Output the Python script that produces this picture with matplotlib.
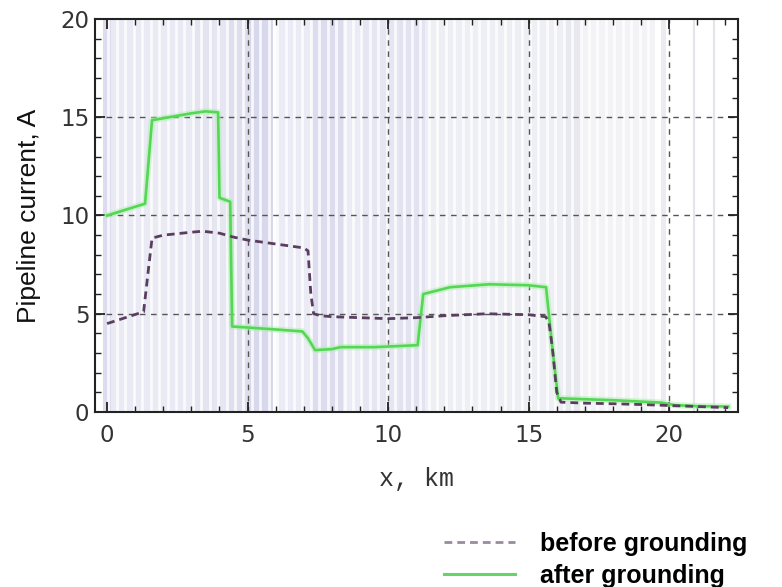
import numpy as np
import matplotlib
matplotlib.use("Agg")
import matplotlib.pyplot as plt
from matplotlib.lines import Line2D
from matplotlib.ticker import MultipleLocator

# ---- data ----
x_before = [0, 1.3, 1.45, 1.6, 2.0, 3.0, 3.4, 4.0, 4.5, 5.0, 6.0, 7.0, 7.15, 7.25, 7.35, 7.6,
            8.0, 9.0, 10.0, 11.0, 12.0, 13.5, 15.0, 15.6, 15.72, 15.85, 16.0, 16.15, 17.0,
            18.0, 19.0, 20.0, 21.0, 22.1]
y_before = [4.5, 5.1, 7.0, 8.85, 9.0, 9.15, 9.2, 9.1, 8.9, 8.75, 8.55, 8.35, 8.2, 6.0, 5.0, 4.9,
            4.85, 4.8, 4.75, 4.8, 4.9, 5.0, 4.95, 4.85, 4.6, 3.2, 1.0, 0.5, 0.45,
            0.42, 0.38, 0.33, 0.28, 0.22]

x_after = [0, 1.35, 1.6, 2.2, 3.0, 3.5, 3.95, 4.0, 4.38, 4.45, 5.0, 6.0, 6.95, 7.15, 7.4, 8.0,
           8.3, 9.5, 11.05, 11.25, 12.2, 13.6, 15.0, 15.62, 15.85, 16.05, 17.0, 18.0, 19.7,
           20.2, 21.0, 22.1]
y_after = [10.0, 10.6, 14.85, 15.0, 15.2, 15.3, 15.25, 10.9, 10.7, 4.35, 4.3, 4.2, 4.1, 3.75, 3.15,
           3.2, 3.3, 3.3, 3.4, 6.0, 6.35, 6.5, 6.45, 6.35, 3.2, 0.7, 0.65, 0.6, 0.48,
           0.35, 0.3, 0.28]

x_ticks = [0, 5, 10, 15, 20]
y_ticks = [0, 5, 10, 15, 20]
grid_x = [5, 10, 15, 20]
grid_y = [5, 10, 15]

# background shading bands (start km, end km, lavender colour)
band_start = [-0.15, 0.15, 3.1, 3.8, 4.3, 5.1, 6.0, 7.3, 8.4, 9.0, 10.4, 11.3, 16.3, 16.9, 19.7]
band_end   = [0.15, 3.1, 3.8, 4.3, 5.1, 5.9, 7.3, 8.4, 9.0, 10.4, 11.3, 16.3, 16.9, 19.5, 19.9]
band_color = ["#dcdcee", "#eaeaf4", "#e4e4f1", "#e6e6f2", "#dedeef", "#d8d8ec", "#ebebf5",
              "#dcdcee", "#ebebf5", "#e6e6f2", "#e2e2f0", "#eeeef5", "#e8e8ef", "#f2f2f7",
              "#ececf0"]
extra_lines = [20.9, 21.6]

label_before = "before grounding"
label_after = "after grounding"

purple = "#5a3e60"
green = "#55d655"

fig = plt.figure(figsize=(7.82, 5.87), dpi=100)
ax = fig.add_axes([95 / 782, 1 - 412 / 587, (738 - 95) / 782, (412 - 19) / 587])
ax.set_xlim(-0.43, 22.45)
ax.set_ylim(0, 20)

# background stripes
for s, e, c in zip(band_start, band_end, band_color):
    ax.axvspan(s, e, color=c, lw=0, zorder=0)
for xs in np.arange(0.05, 19.6, 0.3):
    ax.axvline(xs, color="white", lw=2.0, alpha=0.8, zorder=0.5)
for xs in extra_lines:
    ax.axvline(xs, color="#e4e4ea", lw=1.5, zorder=0.5)

# grid
for gx in grid_x:
    ax.axvline(gx, color="#555555", lw=1.0, dashes=(4, 4), zorder=1)
for gy in grid_y:
    ax.axhline(gy, color="#555555", lw=1.0, dashes=(4, 4), zorder=1)

# curves
ax.plot(x_after, y_after, color="#aaf0aa", lw=4.5, alpha=0.5, zorder=2,
        solid_joinstyle="round")
ax.plot(x_after, y_after, color=green, lw=1.9, zorder=3, solid_joinstyle="round")
ax.plot(x_before, y_before, color=purple, lw=2.0, dashes=(2.8, 1.8), zorder=4)

# ticks
ax.set_xticks(x_ticks)
ax.set_yticks(y_ticks)
ax.xaxis.set_minor_locator(MultipleLocator(1))
ax.yaxis.set_minor_locator(MultipleLocator(1))
ax.tick_params(which="both", direction="in", top=True, right=True, color="#222222")
ax.tick_params(which="major", length=7, width=1.3)
ax.tick_params(which="minor", length=4, width=1.0)
ax.tick_params(axis="both", which="major", labelsize=16.5, labelcolor="#333333")
ax.tick_params(axis="x", which="major", pad=9)
ax.tick_params(axis="y", which="major", pad=4)
for sp in ax.spines.values():
    sp.set_linewidth(1.5)
    sp.set_color("#222222")

ax.set_xlabel("x, km", family="Liberation Mono", fontsize=18, labelpad=14, color="#333333")
ax.set_ylabel("Pipeline current, A", family="Liberation Sans", fontsize=19, labelpad=14,
              color="#111111")

handles = [Line2D([], [], color="#9a8aa0", lw=2.0, dashes=(2.8, 1.8)),
           Line2D([], [], color="#66d466", lw=2.2)]
fig.legend(handles, [label_before, label_after], loc="upper left",
           bbox_to_anchor=(432 / 782, 1 - 519 / 587), frameon=False,
           prop={"family": "Liberation Sans", "weight": "bold", "size": 18},
           handlelength=2.8, handletextpad=1.0, labelspacing=0.32, borderpad=0)

fig.savefig("out.png", dpi=100)
